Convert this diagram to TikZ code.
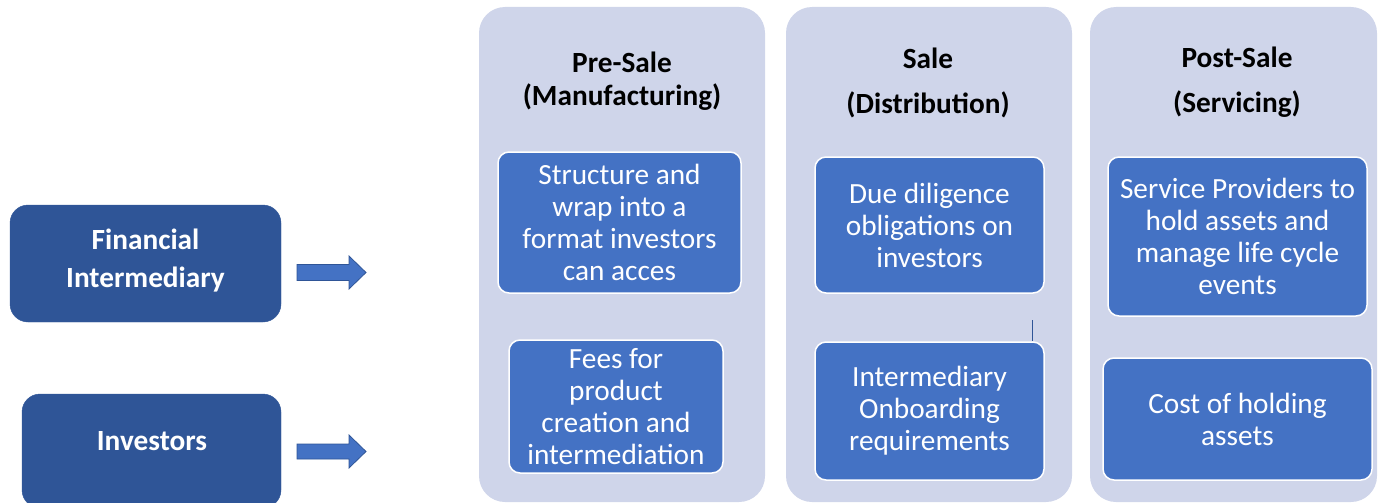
\documentclass[tikz,border=0pt]{standalone}
\usepackage{fontspec}
\setmainfont{Carlito}
\definecolor{navy}{HTML}{2F5597}
\definecolor{midblue}{HTML}{4472C4}
\definecolor{lavender}{HTML}{CFD5EA}
\begin{document}
\begin{tikzpicture}[x=1pt,y=-1pt,
  actor/.style={fill=navy, draw=navy, rounded corners=18pt, inner sep=0pt},
  actorlabel/.style={text=white, font=\fontsize{29.3}{38}\selectfont\bfseries, align=center, inner sep=0pt},
  stage/.style={fill=lavender, rounded corners=26pt, inner sep=0pt},
  heading/.style={font=\fontsize{29.3}{#1}\selectfont\bfseries, align=center, inner sep=0pt},
  task/.style={fill=midblue, draw=white, line width=1.5pt, rounded corners=11pt,
    text=white, inner sep=0pt, font=\fontsize{29.3}{32}\selectfont, align=center},
  blockarrow/.style={fill=midblue, draw=navy, line width=0.8pt, line join=miter}]

\useasboundingbox (0,0) rectangle (1378,503);

% stage columns
\node[stage, minimum width=286pt, minimum height=495pt] (presale) at (622,254.5) {};
\node[stage, minimum width=286pt, minimum height=495pt] (sale) at (929,254.5) {};
\node[stage, minimum width=287pt, minimum height=495pt] (postsale) at (1233.5,254.5) {};

% column headings
\node[heading=33pt] (h1) at (622,81.5) {Pre-Sale\\(Manufacturing)};
\node[heading=45pt] (h2) at (928,82.5) {Sale\\(Distribution)};
\node[heading=45pt] (h3) at (1237,82.5) {Post-Sale\\(Servicing)};

% activity boxes
\node[task, minimum width=243pt, minimum height=141pt] (pre1) at (619.5,222.5)
  {Structure and\\wrap into a\\format investors\\can acces};
\node[task, minimum width=214pt, minimum height=133pt] (pre2) at (616,406.5)
  {Fees for\\product\\creation and\\intermediation};
\node[task, minimum width=229pt, minimum height=136pt] (sale1) at (929.5,225)
  {Due diligence\\obligations on\\investors};
\node[task, minimum width=229pt, minimum height=138pt] (sale2) at (929.5,411)
  {Intermediary\\Onboarding\\requirements};
\node[task, minimum width=259pt, minimum height=159pt] (post1) at (1237.5,236.5)
  {Service Providers to\\hold assets and\\manage life cycle\\events};
\node[task, minimum width=269pt, minimum height=122pt] (post2) at (1237.5,419)
  {Cost of holding\\assets};

% short tick above the onboarding box
\coordinate (tick) at (1032,320);
\draw[navy, line width=0.8pt] (tick) -- (tick |- sale2.north);

% participants
\node[actor, minimum width=271pt, minimum height=117pt] (fin) at (145.5,263.5) {};
\node[actorlabel] (finlabel) at (145.5,261) {Financial\\Intermediary};
\node[actor, minimum width=259pt, minimum height=114pt] (inv) at (151.5,451) {};
\node[actorlabel] (invlabel) at (152,441) {Investors};

% block arrows
\coordinate (a1) at (297,272.5);
\coordinate (a2) at (297,451.5);
\draw[blockarrow] (a1) ++(0,-8) -- ++(52,0) -- ++(0,-8.5) -- ++(17,16.5)
  -- ++(-17,16.5) -- ++(0,-8.5) -- ++(-52,0) -- cycle;
\draw[blockarrow] (a2) ++(0,-7.5) -- ++(52,0) -- ++(0,-9) -- ++(17,16.5)
  -- ++(-17,16.5) -- ++(0,-9) -- ++(-52,0) -- cycle;
\end{tikzpicture}
\end{document}
